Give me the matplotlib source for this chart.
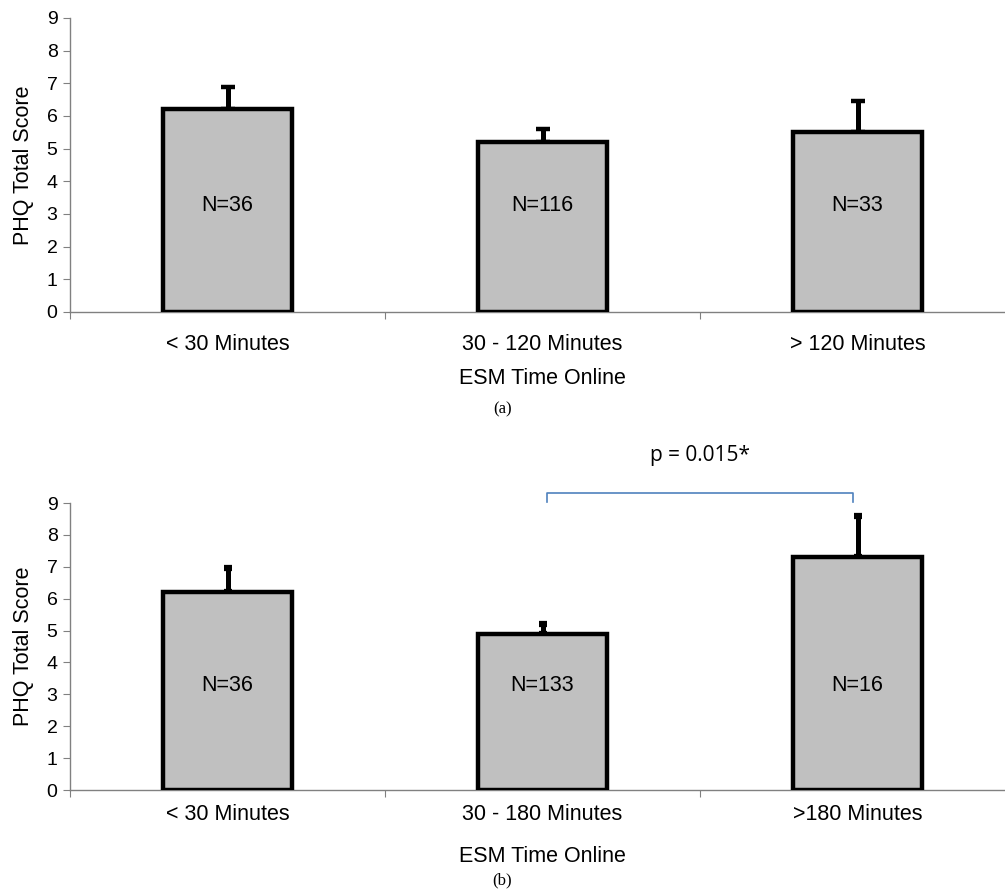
import matplotlib
matplotlib.use("Agg")
import matplotlib.pyplot as plt
import numpy as np

# panel (a)
cats_a = ["< 30 Minutes", "30 - 120 Minutes", "> 120 Minutes"]
means_a = [6.2, 5.2, 5.5]
err_a = [0.7, 0.4, 0.95]
n_a = ["N=36", "N=116", "N=33"]

# panel (b)
cats_b = ["< 30 Minutes", "30 - 180 Minutes", ">180 Minutes"]
means_b = [6.2, 4.9, 7.3]
err_b = [0.75, 0.3, 1.3]
n_b = ["N=36", "N=133", "N=16"]

sig_pair = (1, 2)
sig_y = 9.3
sig_label = "p = 0.015*"

Y_TICKS = list(range(0, 10))

plt.rcParams["font.family"] = ["Liberation Sans", "DejaVu Sans"]

fig = plt.figure(figsize=(10.05, 8.96), dpi=100)


def draw_panel(ax, cats, means, errs, labels, letter, caps, pads):
    x = np.arange(len(cats))
    ax.bar(x, means, width=0.41, color="#c0c0c0", edgecolor="black",
           linewidth=3.2, zorder=3)
    ax.errorbar(x, means, yerr=[np.zeros(len(errs)), errs], fmt="none",
                ecolor="black", elinewidth=3.6, capsize=caps[0],
                capthick=caps[1], zorder=2)
    for xi, lab in zip(x, labels):
        ax.text(xi, 3.27, lab, ha="center", va="center", fontsize=15.5,
                zorder=4)

    ax.set_xlim(-0.5, len(cats) - 0.5)
    ax.set_ylim(0, 9)
    ax.set_yticks(Y_TICKS)
    ax.tick_params(axis="y", labelsize=14, length=5, color="#808080",
                   direction="out", pad=4)
    ax.set_xticks(np.arange(len(cats) + 1) - 0.5)
    ax.set_xticklabels([])
    ax.tick_params(axis="x", length=5, color="#808080", direction="out")
    ax.set_xticks(x, minor=True)
    ax.set_xticklabels(cats, minor=True, fontsize=15.5)
    ax.tick_params(axis="x", which="minor", length=0, pad=pads[0])

    for side in ["top", "right"]:
        ax.spines[side].set_visible(False)
    for side in ["left", "bottom"]:
        ax.spines[side].set_color("#808080")
        ax.spines[side].set_linewidth(1.0)

    ax.set_ylabel("PHQ Total Score", fontsize=15.5, labelpad=9)
    ax.set_xlabel("ESM Time Online", fontsize=15.5, labelpad=pads[1])
    ax.text(0.5, letter[1], letter[0], transform=fig.transFigure,
            ha="center", va="center", fontsize=12,
            family=["Liberation Serif", "DejaVu Serif"])


ax_a = fig.add_axes([70 / 1005, 1 - 312 / 896, 945 / 1005, 294 / 896])
draw_panel(ax_a, cats_a, means_a, err_a, n_a, ("(a)", 1 - 409 / 896),
           (5, 3.2), (16, 9))

ax_b = fig.add_axes([70 / 1005, 1 - 790 / 896, 945 / 1005, 287 / 896])
draw_panel(ax_b, cats_b, means_b, err_b, n_b, ("(b)", 1 - 880 / 896),
           (2.8, 4.5), (10, 15))

# significance bracket
i, j = sig_pair
ax_b.plot([i + 0.015, i + 0.015, j - 0.013, j - 0.013],
          [sig_y - 0.28, sig_y, sig_y, sig_y - 0.28],
          color="#4f81bd", linewidth=1.2, clip_on=False, zorder=5)
ax_b.text((i + j) / 2, sig_y + 1.2, sig_label, ha="center",
          va="center", fontsize=15, family=["Open Sans", "DejaVu Sans"],
          clip_on=False)

fig.savefig("out.png", dpi=100)
